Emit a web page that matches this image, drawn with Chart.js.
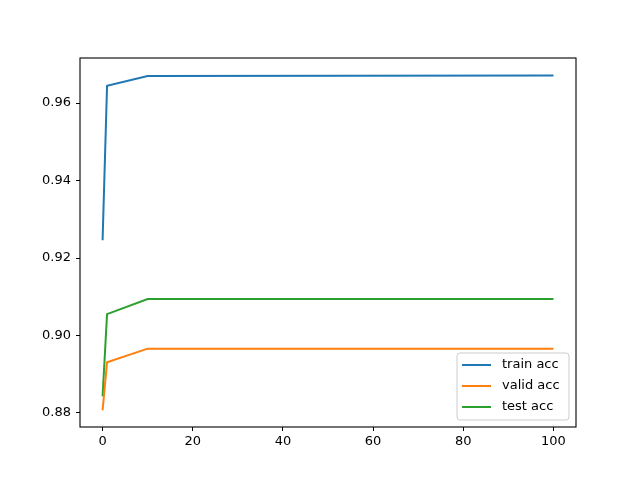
<!DOCTYPE html>
<html>
<head>
<meta charset="utf-8">
<script src="https://cdn.jsdelivr.net/npm/chart.js@4/dist/chart.umd.min.js"></script>
<style>
  html, body { margin: 0; padding: 0; background: #fff; }
  #wrap { width: 640px; height: 480px; }
</style>
</head>
<body>
<div id="wrap"><canvas id="grafica" width="640" height="480"></canvas></div>
<script>
// valores
const xVals = [0.01, 1, 10, 100]
const trainAcc = [0.9246, 0.9645, 0.9670, 0.9671]
const validAcc = [0.8807, 0.8931, 0.8966, 0.8966]
const testAcc = [0.8843, 0.9055, 0.9094, 0.9094]
const xTicks = [0, 20, 40, 60, 80, 100]
const yTicks = [0.88, 0.90, 0.92, 0.94, 0.96]
const series = [
    { label: 'train acc', data: trainAcc, color: '#1f77b4' },
    { label: 'valid acc', data: validAcc, color: '#ff7f0e' },
    { label: 'test acc', data: testAcc, color: '#2ca02c' }
]

const fuente = 'DejaVu Sans'

let puntos = (ys) => xVals.map((x, i) => ({ x: x, y: ys[i] }))

// marco del area y leyenda dentro del grafico, abajo a la derecha
const marcoYLeyenda = {
    id: 'marcoYLeyenda',
    afterDraw(chart) {
        const ctx = chart.ctx
        const a = chart.chartArea
        ctx.save()
        ctx.strokeStyle = '#000'
        ctx.lineWidth = 1.1
        ctx.strokeRect(a.left, a.top, a.right - a.left, a.bottom - a.top)

        const w = 112, h = 67
        const x0 = a.right - 7 - w
        const y0 = a.bottom - 7 - h
        ctx.beginPath()
        ctx.roundRect(x0, y0, w, h, 3)
        ctx.fillStyle = 'rgba(255,255,255,0.8)'
        ctx.fill()
        ctx.strokeStyle = '#cccccc'
        ctx.lineWidth = 1
        ctx.stroke()

        ctx.font = '13px "' + fuente + '"'
        ctx.textBaseline = 'middle'
        ctx.textAlign = 'left'
        series.forEach((s, i) => {
            const yy = y0 + 12 + i * 21
            ctx.beginPath()
            ctx.moveTo(x0 + 5, yy)
            ctx.lineTo(x0 + 34, yy)
            ctx.strokeStyle = s.color
            ctx.lineWidth = 2
            ctx.stroke()
            ctx.fillStyle = '#000'
            ctx.fillText(s.label, x0 + 45, yy)
        })
        ctx.restore()
    }
}

let grafica = new Chart(document.getElementById('grafica').getContext('2d'), {
    type: 'line',
    data: {
        datasets: series.map(s => ({
            label: s.label,
            data: puntos(s.data),
            borderColor: s.color,
            backgroundColor: s.color,
            borderWidth: 2,
            pointRadius: 0,
            tension: 0,
            fill: false
        }))
    },
    options: {
        responsive: false,
        animation: false,
        layout: { padding: { left: 0, top: 58, right: 64, bottom: 0 } },
        plugins: {
            legend: { display: false },
            tooltip: { enabled: false }
        },
        scales: {
            x: {
                type: 'linear',
                min: -4.9995,
                max: 104.9995,
                afterFit: (s) => { s.height = 53 },
                afterBuildTicks: (s) => { s.ticks = xTicks.map(v => ({ value: v })) },
                border: { display: false },
                grid: { drawOnChartArea: false, drawTicks: true, tickLength: 4, color: '#000', tickWidth: 1 },
                ticks: {
                    color: '#000',
                    padding: 3,
                    maxRotation: 0,
                    font: { family: fuente, size: 13 },
                    callback: (v) => String(v)
                }
            },
            y: {
                min: 0.87637,
                max: 0.97165,
                afterFit: (s) => { s.width = 80 },
                afterBuildTicks: (s) => { s.ticks = yTicks.map(v => ({ value: v })) },
                border: { display: false },
                grid: { drawOnChartArea: false, drawTicks: true, tickLength: 4, color: '#000', tickWidth: 1 },
                ticks: {
                    color: '#000',
                    padding: 5,
                    font: { family: fuente, size: 13 },
                    callback: (v) => v.toFixed(2)
                }
            }
        }
    },
    plugins: [marcoYLeyenda]
})
</script>
</body>
</html>
